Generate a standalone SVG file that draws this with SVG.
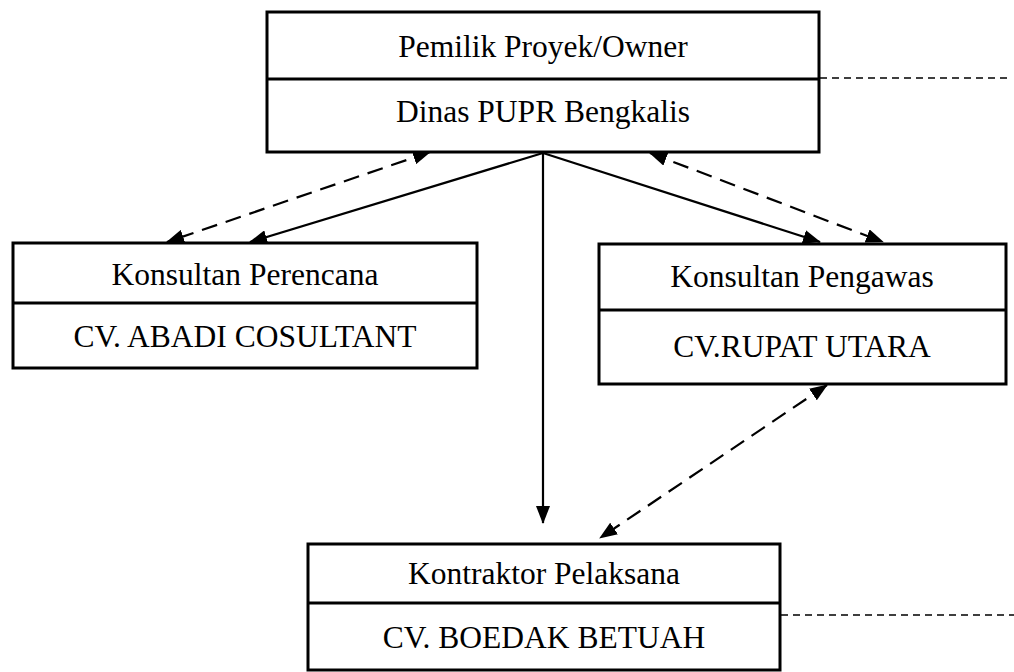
<svg xmlns="http://www.w3.org/2000/svg" width="1014" height="672" viewBox="0 0 1014 672">
<style>
.box{fill:#fff;stroke:#000;stroke-width:3}
.div{stroke:#000;stroke-width:3}
.t{font-family:"Liberation Serif","Times New Roman",serif;font-size:31.5px;fill:#000;text-anchor:middle}
.c{fill:none;stroke:#000;stroke-width:2.2}
.d{stroke-dasharray:16 9}
.s{fill:none;stroke:#000;stroke-width:1.6;stroke-dasharray:7 5}
</style>
<defs>
<marker id="ah" markerUnits="userSpaceOnUse" markerWidth="18" markerHeight="14" refX="17" refY="7" orient="auto-start-reverse" viewBox="0 0 18 14">
<path d="M0,0 L18,7 L0,14 z" fill="#000"/>
</marker>
</defs>
<rect width="1014" height="672" fill="#fff"/>
<g id="connectors">
<line class="c d" x1="430" y1="152" x2="167" y2="242" marker-start="url(#ah)" marker-end="url(#ah)"/>
<line class="c" x1="543" y1="153" x2="250" y2="242" marker-end="url(#ah)"/>
<line class="c" x1="543" y1="153" x2="543" y2="523" marker-end="url(#ah)"/>
<line class="c" x1="543" y1="153" x2="820" y2="242" marker-end="url(#ah)"/>
<line class="c d" x1="650" y1="153" x2="883" y2="242" marker-start="url(#ah)" marker-end="url(#ah)"/>
<line class="c d" x1="827" y1="385" x2="600" y2="538" marker-start="url(#ah)" marker-end="url(#ah)"/>
<line class="s" x1="820" y1="78" x2="1012" y2="78"/>
<line class="s" x1="781" y1="615" x2="1014" y2="615"/>
</g>
<g id="owner">
<rect class="box" x="267" y="12" width="552" height="140"/>
<line class="div" x1="267" y1="79" x2="819" y2="79"/>
<text class="t" x="543" y="57">Pemilik Proyek/Owner</text>
<text class="t" x="543" y="122">Dinas PUPR Bengkalis</text>
</g>
<g id="perencana">
<rect class="box" x="13" y="243" width="464" height="125"/>
<line class="div" x1="13" y1="303" x2="477" y2="303"/>
<text class="t" x="245" y="285">Konsultan Perencana</text>
<text class="t" x="245" y="347">CV. ABADI COSULTANT</text>
</g>
<g id="pengawas">
<rect class="box" x="599" y="244" width="407" height="140"/>
<line class="div" x1="599" y1="310" x2="1006" y2="310"/>
<text class="t" x="802" y="287">Konsultan Pengawas</text>
<text class="t" x="802" y="357">CV.RUPAT UTARA</text>
</g>
<g id="kontraktor">
<rect class="box" x="308" y="544" width="472" height="126"/>
<line class="div" x1="308" y1="603" x2="780" y2="603"/>
<text class="t" x="544" y="584">Kontraktor Pelaksana</text>
<text class="t" x="544" y="648">CV. BOEDAK BETUAH</text>
</g>
</svg>
